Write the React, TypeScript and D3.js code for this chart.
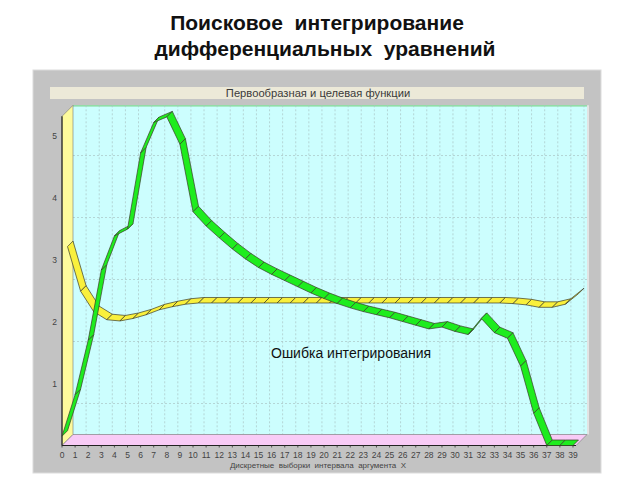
import React from 'react';
import * as d3 from 'd3';

const xLabels: number[] = d3.range(0, 40);
const yLabels: number[] = [1, 2, 3, 4, 5];
const gridValues: number[] = [0.5, 1.5, 2.5, 3.5, 4.5];

const greenValues: number[] = [
  0.15, 0.82, 1.7, 2.83, 3.38, 3.49, 4.72, 5.21, 5.3, 4.86,
  3.77, 3.54, 3.35, 3.17, 3.01, 2.87, 2.76, 2.66, 2.56, 2.46,
  2.37, 2.29, 2.22, 2.16, 2.11, 2.06, 2.0, 1.94, 1.88, 1.91,
  1.84, 1.79, 2.05, 1.82, 1.73, 1.28, 0.52, 0, 0, 0,
];

const yellowValues: number[] = [
  3.12, 2.4, 2.07, 1.94, 1.92, 1.96, 2.02, 2.1, 2.15, 2.19,
  2.21, 2.21, 2.21, 2.21, 2.21, 2.21, 2.21, 2.21, 2.21, 2.21,
  2.21, 2.21, 2.21, 2.21, 2.21, 2.21, 2.21, 2.21, 2.21, 2.21,
  2.21, 2.21, 2.21, 2.21, 2.2, 2.18, 2.14, 2.14, 2.19, 2.36,
];

const titleLines: string[] = ['Поисковое  интегрирование', 'дифференциальных  уравнений'];
const chartTitle = 'Первообразная и целевая функции';
const annotation = 'Ошибка интегрирования';
const xAxisTitle = 'Дискретные  выборки  интервала  аргумента  X';

const DEPTH = 11;

function ribbon(
  values: number[],
  x: d3.ScaleLinear<number, number>,
  y: d3.ScaleLinear<number, number>,
  d0: number,
  d1: number,
  fill: string,
  key: string
) {
  const quads: JSX.Element[] = [];
  for (let i = 0; i < values.length - 1; i++) {
    const f0 = [x(i) + d0, y(values[i]) - d0];
    const f1 = [x(i + 1) + d0, y(values[i + 1]) - d0];
    const b1 = [x(i + 1) + d1, y(values[i + 1]) - d1];
    const b0 = [x(i) + d1, y(values[i]) - d1];
    const pts = [f0, f1, b1, b0].map((p) => p.join(',')).join(' ');
    quads.push(
      <polygon key={key + i} points={pts} fill={fill} stroke="#3a3a2a" strokeWidth={0.7} strokeLinejoin="round" />
    );
  }
  return quads;
}

export default function App() {
  const x = d3.scaleLinear().domain([0, 39.23]).range([62, 576]);
  const y = d3.scaleLinear().domain([0, 5.31]).range([445.5, 116.3]);
  const x0 = x(0);
  const x1 = x(39.23);
  const yb = y(0);
  const yt = y(5.31);
  const D = DEPTH;

  return (
    <svg width={640} height={480} style={{ display: 'block', position: 'absolute', left: 0, top: 0 }}
      fontFamily="'Liberation Sans', Arial, sans-serif">
      <style>{`body{margin:0}`}</style>
      <rect x={0} y={0} width={640} height={480} fill="#ffffff" />

      {/* slide title */}
      <text x={317} y={30} textAnchor="middle" fontSize={21} fontWeight="bold" fill="#111" xmlSpace="preserve">
        {titleLines[0]}
      </text>
      <text x={325} y={56} textAnchor="middle" fontSize={21} fontWeight="bold" fill="#111" xmlSpace="preserve">
        {titleLines[1]}
      </text>

      {/* chart panel */}
      <rect x={33} y={70} width={568} height={403} fill="#c3c3c3" stroke="#dcdcdc" strokeWidth={1} />
      <rect x={50} y={87} width={534} height={12} fill="#ece9d8" />
      <text x={318} y={96.8} textAnchor="middle" fontSize={11.2} fill="#3a3a3a">{chartTitle}</text>

      {/* back wall */}
      <rect x={x0 + D} y={yt - D} width={x1 - x0} height={yb - yt} fill="#ccfefe" />
      <line x1={x0 + D} x2={x1 + D} y1={yt - D + 0.5} y2={yt - D + 0.5} stroke="#7fd68f" strokeWidth={1.2} />
      <line x1={x1 + D + 1} x2={x1 + D + 1} y1={yt - D} y2={yb - D} stroke="#eeeeee" strokeWidth={1.5} />

      {/* grid */}
      {xLabels.slice(1).map((v) => (
        <line key={'gx' + v} x1={x(v) + D} x2={x(v) + D} y1={yt - D} y2={yb - D}
          stroke="#a9c4c4" strokeWidth={0.7} strokeDasharray="2,2" />
      ))}
      {gridValues.map((v) => (
        <line key={'gy' + v} x1={x0 + D} x2={x1 + D} y1={y(v) - D} y2={y(v) - D}
          stroke="#a9c4c4" strokeWidth={0.7} strokeDasharray="2,2" />
      ))}

      {/* left wall */}
      <polygon
        points={[[x0, yb], [x0, yt], [x0 + D, yt - D], [x0 + D, yb - D]].map((p) => p.join(',')).join(' ')}
        fill="#fdfa9c" stroke="#777" strokeWidth={0.6}
      />
      {/* floor */}
      <polygon
        points={[[x0, yb], [x0 + D, yb - D], [x1 + D, yb - D], [x1, yb]].map((p) => p.join(',')).join(' ')}
        fill="#f8cbf6" stroke="#777" strokeWidth={0.6}
      />

      {/* axes */}
      <line x1={x0} x2={x0} y1={yt} y2={yb} stroke="#222" strokeWidth={1.2} />
      <line x1={x0} x2={x1} y1={yb} y2={yb} stroke="#222" strokeWidth={1.2} />
      {xLabels.map((v) => (
        <line key={'tx' + v} x1={x(v)} x2={x(v)} y1={yb} y2={yb + 2} stroke="#333" strokeWidth={0.8} />
      ))}

      {/* series */}
      {ribbon(yellowValues, x, y, D / 2, D, '#f9f03c', 'yl')}
      {ribbon(greenValues, x, y, 0, D / 2, '#1eec1e', 'gr')}

      {/* labels */}
      {yLabels.map((v) => (
        <text key={'ly' + v} x={57} y={y(v) + 3} textAnchor="end" fontSize={8.5} fill="#444">{v}</text>
      ))}
      {xLabels.map((v) => (
        <text key={'lx' + v} x={x(v)} y={458} textAnchor="middle" fontSize={8.5} fill="#444">{v}</text>
      ))}
      <text x={318} y={467.5} textAnchor="middle" fontSize={8} fill="#444" xmlSpace="preserve">{xAxisTitle}</text>

      <text x={271} y={358} fontSize={14} fill="#111">{annotation}</text>
    </svg>
  );
}
